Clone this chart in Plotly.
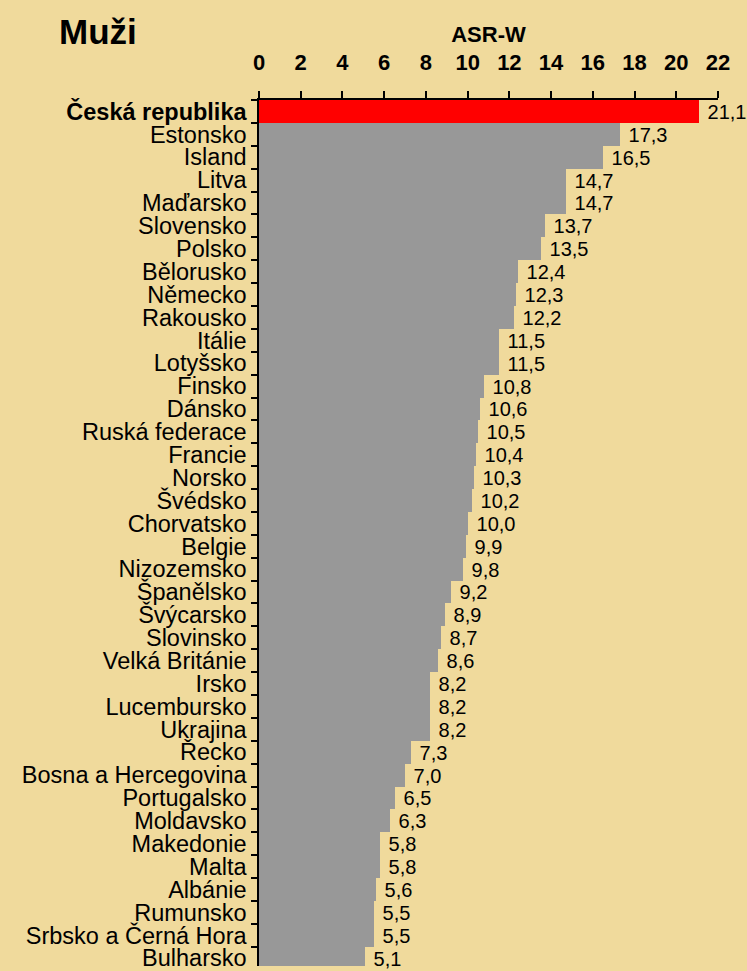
import plotly.graph_objects as go

countries = ["Česká republika", "Estonsko", "Island", "Litva", "Maďarsko", "Slovensko",
             "Polsko", "Bělorusko", "Německo", "Rakousko", "Itálie", "Lotyšsko", "Finsko",
             "Dánsko", "Ruská federace", "Francie", "Norsko", "Švédsko", "Chorvatsko",
             "Belgie", "Nizozemsko", "Španělsko", "Švýcarsko", "Slovinsko", "Velká Británie",
             "Irsko", "Lucembursko", "Ukrajina", "Řecko", "Bosna a Hercegovina", "Portugalsko",
             "Moldavsko", "Makedonie", "Malta", "Albánie", "Rumunsko", "Srbsko a Černá Hora",
             "Bulharsko"]
values = [21.1, 17.3, 16.5, 14.7, 14.7, 13.7, 13.5, 12.4, 12.3, 12.2, 11.5, 11.5, 10.8,
          10.6, 10.5, 10.4, 10.3, 10.2, 10.0, 9.9, 9.8, 9.2, 8.9, 8.7, 8.6, 8.2, 8.2, 8.2,
          7.3, 7.0, 6.5, 6.3, 5.8, 5.8, 5.6, 5.5, 5.5, 5.1]
highlight = "Česká republika"
x_ticks = list(range(0, 23, 2))

BG = "#F0DA9C"
FONT = "Liberation Sans, Arial, sans-serif"

colors = ["#FF0000" if c == highlight else "#989898" for c in countries]
ticktext = [f"<b>{c}</b>" if c == highlight else c for c in countries]

n = len(countries)
yrange = [n - 0.66, -0.5]

fig = go.Figure()
fig.add_trace(go.Bar(
    x=values, y=countries, orientation="h",
    marker=dict(color=colors, line=dict(width=0)),
    texttemplate=" %{x:.1f}", textposition="outside",
    textfont=dict(size=20, color="black", family=FONT),
    constraintext="none", cliponaxis=False,
    showlegend=False, hoverinfo="skip",
))
# invisible trace to anchor the boundary-tick axis
fig.add_trace(go.Scatter(x=[None], y=[None], yaxis="y2", showlegend=False, hoverinfo="skip"))

fig.update_layout(
    width=747, height=971,
    margin=dict(l=259, r=29, t=100, b=0),
    paper_bgcolor=BG, plot_bgcolor=BG,
    bargap=0,
    separators=",.",
    font=dict(family=FONT, color="black"),
    xaxis=dict(
        side="top", range=[0, 22], tickvals=x_ticks, ticktext=[str(v) for v in x_ticks],
        ticks="outside", ticklen=7, tickwidth=1.5, tickcolor="black",
        showline=True, linewidth=1.5, linecolor="black",
        showgrid=False, zeroline=False,
        tickfont=dict(size=22, family=FONT, color="black", weight="bold"),
        ticklabelstandoff=12,
        title=dict(text="<b>ASR-W</b>", font=dict(size=22, family=FONT, color="black"), standoff=2),
    ),
    yaxis=dict(
        type="category", categoryorder="array", categoryarray=countries,
        tickvals=countries, ticktext=ticktext, range=yrange,
        ticks="", showgrid=False, zeroline=False,
        showline=True, linewidth=1.5, linecolor="black",
        tickfont=dict(size=23.5, family=FONT, color="black"),
        ticklabelstandoff=6,
    ),
    yaxis2=dict(
        overlaying="y", side="left", anchor="x", range=yrange,
        tickvals=[i - 0.5 for i in range(n + 1)],
        ticks="outside", ticklen=7, tickwidth=1.5, tickcolor="black",
        showticklabels=False, showgrid=False, zeroline=False, showline=False,
    ),
    annotations=[dict(
        text="<b>Muži</b>", xref="paper", yref="paper", x=-0.4404, y=1.0792,
        xanchor="left", yanchor="middle", showarrow=False,
        font=dict(size=35, family=FONT, color="black"),
    )],
)

fig.write_html(
    "out.html",
    config={"displayModeBar": False},
    post_script="document.body.style.margin='0';document.body.style.overflow='hidden';",
)
